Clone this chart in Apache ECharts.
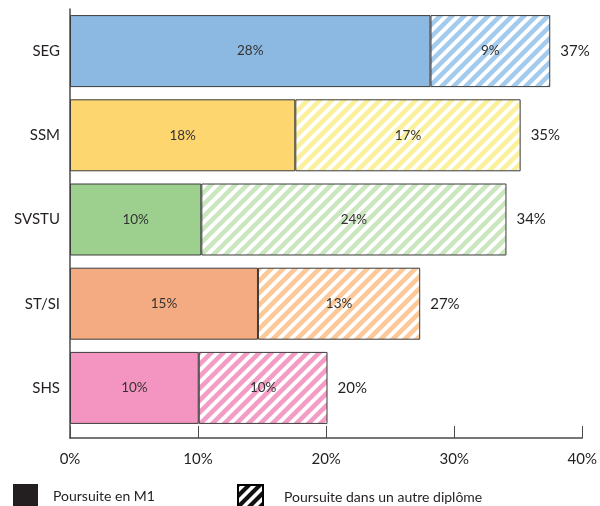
<!DOCTYPE html>
<html>
<head>
<meta charset="utf-8">
<script src="https://cdn.jsdelivr.net/npm/echarts@6/dist/echarts.min.js"></script>
<style>
html,body{margin:0;padding:0;background:#fff;}
#chart{width:600px;height:506px;}
</style>
</head>
<body>
<div id="chart"></div>
<script>
// ---- data ----
const categories = ['SEG', 'SSM', 'SVSTU', 'ST/SI', 'SHS'];
const m1Values = [28, 17.5, 10.2, 14.6, 10];
const otherValues = [9.3, 17.5, 23.7, 12.6, 10];
const m1Labels = ['28%', '18%', '10%', '15%', '10%'];
const otherLabels = ['9%', '17%', '24%', '13%', '10%'];
const totalLabels = ['37%', '35%', '34%', '27%', '20%'];
const xTicks = [0, 10, 20, 30, 40];
const seriesNames = ['Poursuite en M1', 'Poursuite dans un autre diplôme'];

// ---- styles ----
const solidColors = ['#8cb9e1', '#fed66f', '#9dd08f', '#f4ab81', '#f495c1'];
const stripeColors = ['#a3cbee', '#fbf19c', '#cbe7c0', '#fdc898', '#f39cc6'];
const FONT = 'Lato';
const TXT = '#231f20';

function stripes(color, bg, size, lw) {
  const c = document.createElement('canvas');
  c.width = size; c.height = size;
  const g = c.getContext('2d');
  g.fillStyle = bg; g.fillRect(0, 0, size, size);
  g.strokeStyle = color; g.lineWidth = lw; g.lineCap = 'square';
  g.beginPath();
  g.moveTo(-size, size); g.lineTo(size, -size);
  g.moveTo(0, 2 * size); g.lineTo(2 * size, 0);
  g.moveTo(-size, 2 * size); g.lineTo(2 * size, -size);
  g.stroke();
  return c;
}

const border = { borderColor: '#3a3a3a', borderWidth: 1 };

const m1Data = m1Values.map((v, i) => ({
  value: v,
  itemStyle: Object.assign({ color: solidColors[i] }, border)
}));
const otherData = otherValues.map((v, i) => ({
  value: v,
  itemStyle: Object.assign({ color: { image: stripes(stripeColors[i], '#ffffff', 12, 4.6), repeat: 'repeat' } }, border)
}));

const chart = echarts.init(document.getElementById('chart'));
chart.setOption({
  animation: false,
  backgroundColor: '#fff',
  textStyle: { fontFamily: FONT },
  grid: [
    { left: 70, width: 515, top: 9, height: 421 },
    { left: 70, width: 515, top: 9, height: 429 }
  ],
  xAxis: [
    { gridIndex: 0, type: 'value', min: 0, max: 40, show: false },
    {
      gridIndex: 1, type: 'value', min: 0, max: 40, interval: 10,
      axisLine: { show: true, lineStyle: { color: '#4a4a4a', width: 1.5 } },
      axisTick: { show: true, inside: true, length: 12, lineStyle: { color: '#4a4a4a' } },
      splitLine: { show: false },
      axisLabel: { margin: 14, fontSize: 15, color: TXT, fontFamily: FONT,
        formatter: v => (xTicks.indexOf(v) >= 0 ? v + '%' : '') }
    }
  ],
  yAxis: [
    {
      gridIndex: 0, type: 'category', data: categories, inverse: true,
      axisLine: { show: false }, axisTick: { show: false },
      axisLabel: { margin: 10, fontSize: 15, color: TXT, fontFamily: FONT }
    },
    {
      gridIndex: 1, type: 'value', min: 0, max: 1,
      axisLine: { show: true, lineStyle: { color: '#4a4a4a', width: 1.5 } },
      axisTick: { show: false }, axisLabel: { show: false }, splitLine: { show: false }
    }
  ],
  legend: [
    {
      data: [{ name: seriesNames[0], icon: 'rect' }], left: 13, top: 484, padding: 0,
      itemWidth: 25, itemHeight: 25, selectedMode: false,
      textStyle: { fontSize: 14, color: TXT, fontFamily: FONT, padding: [0, 0, 0, 10] }
    },
    {
      data: [{ name: seriesNames[1], icon: 'rect' }], left: 237, top: 484, padding: 0,
      itemWidth: 25, itemHeight: 25, selectedMode: false,
      textStyle: { fontSize: 14, color: TXT, fontFamily: FONT, padding: [0, 0, 0, 16] }
    }
  ],
  series: [
    {
      name: seriesNames[0], type: 'bar', stack: 'total', xAxisIndex: 0, yAxisIndex: 0,
      barCategoryGap: '14.5%', data: m1Data, itemStyle: { color: '#231f20' },
      label: { show: true, position: 'inside', fontSize: 13.5, color: '#333', fontFamily: FONT,
        formatter: p => m1Labels[p.dataIndex] }
    },
    {
      name: seriesNames[1], type: 'bar', stack: 'total', xAxisIndex: 0, yAxisIndex: 0,
      barCategoryGap: '14.5%', data: otherData,
      itemStyle: { color: { image: stripes('#111111', '#ffffff', 11, 4.2), repeat: 'repeat' }, borderColor: '#000', borderWidth: 1 },
      label: { show: true, position: 'inside', fontSize: 13.5, color: '#333', fontFamily: FONT,
        formatter: p => otherLabels[p.dataIndex] }
    },
    {
      name: 'total', type: 'bar', stack: 'total', xAxisIndex: 0, yAxisIndex: 0,
      barCategoryGap: '14.5%', data: categories.map(() => 0),
      itemStyle: { color: 'rgba(0,0,0,0)', borderWidth: 0 },
      label: { show: true, position: 'right', distance: 10, fontSize: 15, color: TXT, fontFamily: FONT,
        formatter: p => totalLabels[p.dataIndex] },
      silent: true
    }
  ]
});
</script>
</body>
</html>
